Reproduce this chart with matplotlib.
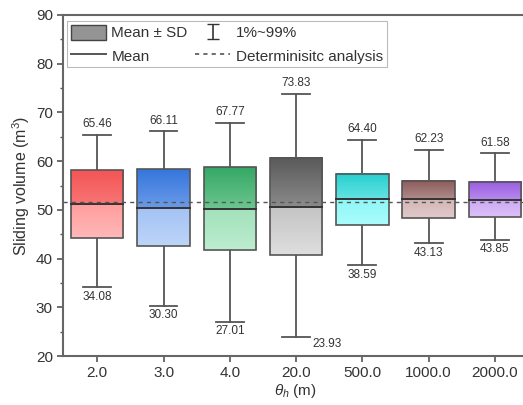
import numpy as np
import matplotlib
matplotlib.use('Agg')
import matplotlib.pyplot as plt
from matplotlib.colors import LinearSegmentedColormap
from matplotlib.patches import Patch, Rectangle
from matplotlib.lines import Line2D

plt.rcParams['font.family'] = ['Liberation Sans', 'DejaVu Sans']
plt.rcParams['mathtext.fontset'] = 'custom'
plt.rcParams['mathtext.rm'] = 'Liberation Sans'
plt.rcParams['mathtext.it'] = 'Liberation Sans:italic'

theta = ['2.0', '3.0', '4.0', '20.0', '500.0', '1000.0', '2000.0']
mean = [51.2, 50.4, 50.1, 50.6, 52.2, 52.2, 52.1]
sd_hi = [58.1, 58.3, 58.7, 60.7, 57.4, 56.0, 55.8]
sd_lo = [44.3, 42.5, 41.8, 40.7, 46.9, 48.3, 48.6]
p99 = [65.46, 66.11, 67.77, 73.83, 64.40, 62.23, 61.58]
p01 = [34.08, 30.30, 27.01, 23.93, 38.59, 43.13, 43.85]
deterministic = 51.6

# (upper top, upper bottom, lower top, lower bottom)
colors = [
    ('#f45555', '#f87474', '#ff9d9d', '#ffb8b8'),
    ('#3576dc', '#6a9ae8', '#a3c3f5', '#bcd4f8'),
    ('#35a865', '#6cc58f', '#a2e2bb', '#bdeccf'),
    ('#5a5a5a', '#8a8a8a', '#c4c4c4', '#dedede'),
    ('#28cfcf', '#63e3e3', '#8ff7f7', '#aafcfc'),
    ('#8c5b5b', '#b08a8a', '#d4b6b6', '#e2caca'),
    ('#9a5ce0', '#b88aec', '#cda8f5', '#dcc0f8'),
]

fig = plt.figure(figsize=(5.23, 4.05), dpi=100)
ax = fig.add_axes([63.3 / 523, 1 - 356 / 405, (528 - 63.3) / 523, (356 - 15) / 405])

x = np.arange(1, len(theta) + 1)
bw = 0.79
cw = 0.42
edge = '#555555'
txt = '#333333'


def grad(ax, x0, x1, y0, y1, ctop, cbot):
    cm = LinearSegmentedColormap.from_list('g', [cbot, ctop])
    g = np.linspace(0, 1, 64).reshape(-1, 1)
    ax.imshow(g, cmap=cm, extent=(x0, x1, y0, y1), origin='lower',
              aspect='auto', zorder=2, interpolation='bilinear')


for i in range(len(theta)):
    xi = x[i]
    # whiskers
    ax.plot([xi, xi], [p01[i], sd_lo[i]], color=edge, lw=1.3, zorder=1)
    ax.plot([xi, xi], [sd_hi[i], p99[i]], color=edge, lw=1.3, zorder=1)
    ax.plot([xi - cw / 2, xi + cw / 2], [p99[i]] * 2, color=edge, lw=1.3, zorder=1)
    ax.plot([xi - cw / 2, xi + cw / 2], [p01[i]] * 2, color=edge, lw=1.3, zorder=1)
    c = colors[i]
    grad(ax, xi - bw / 2, xi + bw / 2, mean[i], sd_hi[i], c[0], c[1])
    grad(ax, xi - bw / 2, xi + bw / 2, sd_lo[i], mean[i], c[2], c[3])
    ax.add_patch(Rectangle((xi - bw / 2, sd_lo[i]), bw, sd_hi[i] - sd_lo[i],
                           fill=False, ec=edge, lw=1.2, zorder=3))
    ax.plot([xi - bw / 2, xi + bw / 2], [mean[i]] * 2, color=txt, lw=1.4, zorder=4)
    ax.annotate(f'{p99[i]:.2f}', (xi, p99[i]), xytext=(0, 3.5), textcoords='offset points',
                ha='center', va='bottom', fontsize=8.5, color=txt)
    if i == 3:
        ax.annotate(f'{p01[i]:.2f}', (xi + cw / 2, p01[i]), xytext=(2, -0.5),
                    textcoords='offset points', ha='left', va='top', fontsize=8.5, color=txt)
    else:
        ax.annotate(f'{p01[i]:.2f}', (xi, p01[i]), xytext=(0, -2.5), textcoords='offset points',
                    ha='center', va='top', fontsize=8.5, color=txt)

ax.axhline(deterministic, color=edge, lw=1.0, ls=(0, (3, 3)), zorder=5)

ax.set_xlim(0.487, 7.5)
ax.set_ylim(20, 90)
ax.set_xticks(x)
ax.set_xticklabels(theta)
ax.set_yticks(np.arange(20, 91, 10))
ax.set_yticks(np.arange(25, 90, 10), minor=True)
ax.tick_params(axis='both', labelsize=11, color=edge, labelcolor=txt, width=1.2, length=4)
ax.tick_params(axis='y', which='minor', length=2.5, width=1.0, color=edge)
for s in ax.spines.values():
    s.set_color('#666666')
    s.set_linewidth(1.5)
ax.set_ylabel('Sliding volume (m$^3$)', fontsize=11.5, color=txt, labelpad=3)
ax.set_xlabel(r'$\theta_h$ (m)', fontsize=11, color=txt, labelpad=1)

# off-screen errorbar used only for the legend handle
eb = ax.errorbar([-5], [50], yerr=[[1], [1]], fmt='none', ecolor=txt, capsize=4, elinewidth=1.2)
handles = [Patch(facecolor='#949494', edgecolor='#444444'),
           Line2D([], [], color=edge, lw=1.4),
           eb,
           Line2D([], [], color=edge, lw=1.2, ls=(0, (2.5, 2.5)))]
labels = ['Mean \u00b1 SD', 'Mean', '1%~99%', 'Determinisitc analysis']
leg = ax.legend(handles, labels, ncol=2, loc='upper left', bbox_to_anchor=(0.008, 0.982),
                fontsize=11, frameon=True, fancybox=False, edgecolor='#aaaaaa',
                borderpad=0.25, handlelength=2.3, handleheight=1.1, handletextpad=0.35,
                columnspacing=0.5, labelspacing=0.5, borderaxespad=0)
leg.get_frame().set_linewidth(0.8)
for t in leg.get_texts():
    t.set_color(txt)

fig.savefig('out.png', dpi=100)
